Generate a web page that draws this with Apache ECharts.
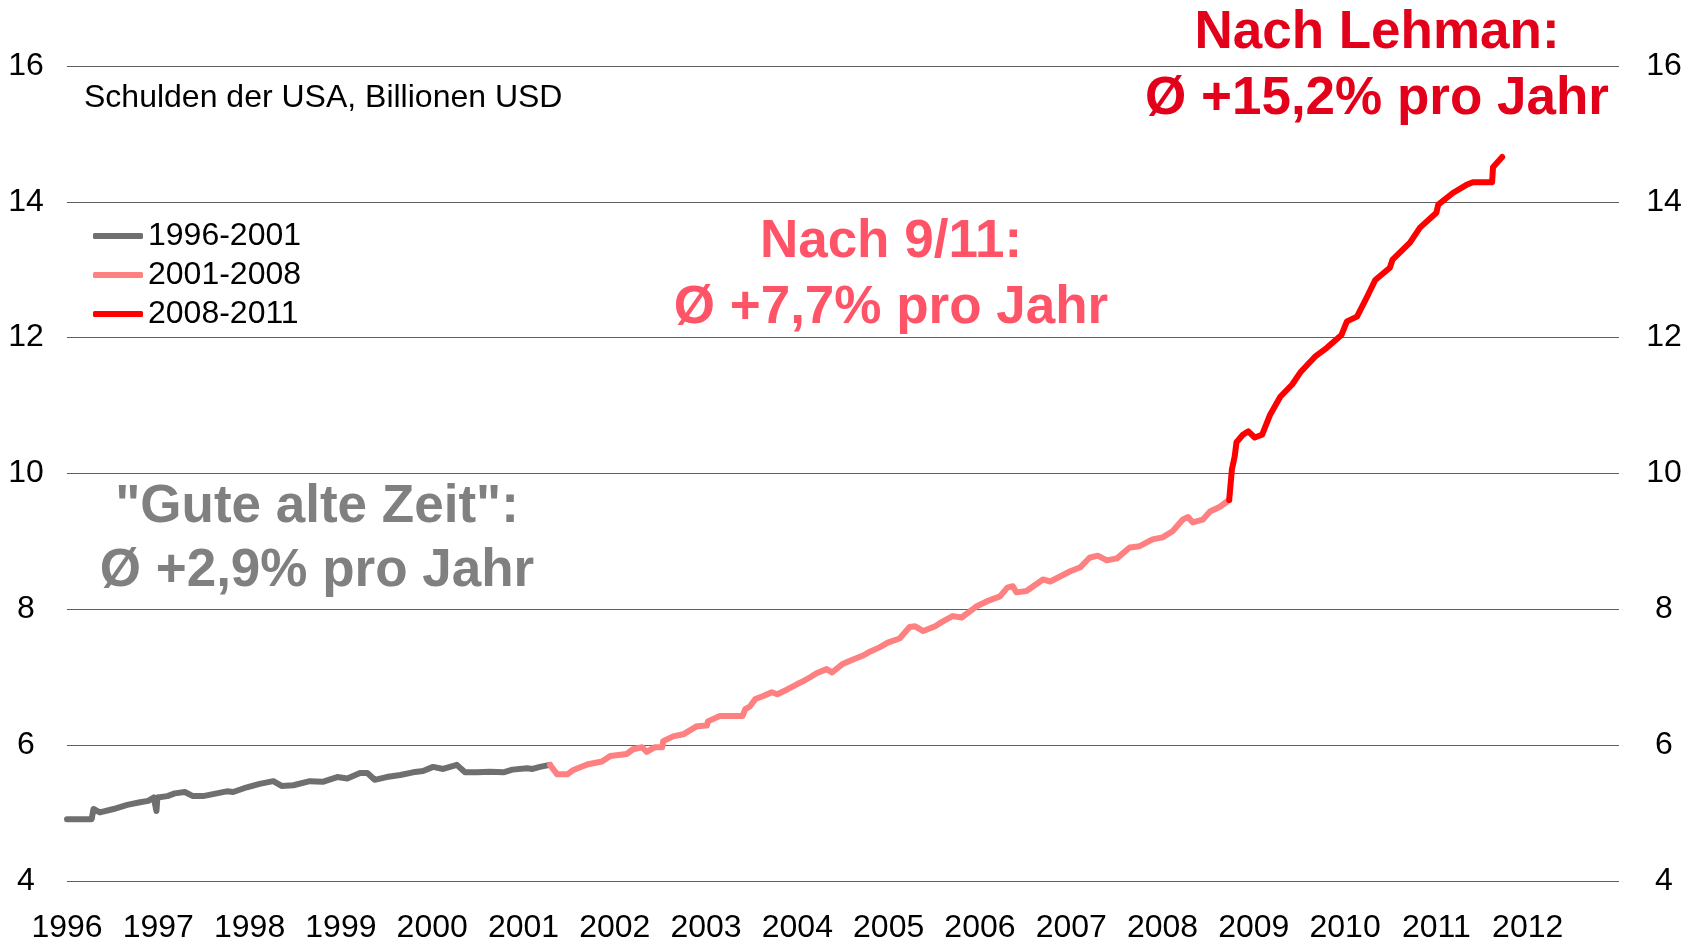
<!DOCTYPE html>
<html>
<head>
<meta charset="utf-8">
<script src="https://cdn.jsdelivr.net/npm/echarts@6/dist/echarts.min.js"></script>
<style>
html,body{margin:0;padding:0;background:#fff;}
#chart{width:1695px;height:944px;}
</style>
</head>
<body>
<div id="chart"></div>
<script>
// ---- Data (US debt, trillions USD) ----
const greyYears = [1996.00,1996.27,1996.29,1996.36,1996.51,1996.66,1996.80,1996.89,1996.95,1996.98,1996.99,1997.10,1997.18,1997.29,1997.38,1997.49,1997.64,1997.75,1997.82,1997.97,1998.11,1998.26,1998.35,1998.48,1998.66,1998.80,1998.96,1999.07,1999.21,1999.29,1999.37,1999.50,1999.65,1999.79,1999.90,2000.01,2000.12,2000.27,2000.36,2000.49,2000.63,2000.78,2000.88,2001.04,2001.10,2001.18,2001.29];
const greyValues = [4.91,4.91,5.06,5.01,5.06,5.12,5.16,5.18,5.23,5.03,5.23,5.25,5.29,5.31,5.25,5.25,5.29,5.32,5.31,5.38,5.43,5.47,5.40,5.41,5.47,5.46,5.53,5.51,5.59,5.59,5.49,5.53,5.56,5.60,5.62,5.68,5.65,5.71,5.60,5.60,5.61,5.60,5.64,5.66,5.65,5.68,5.71];

const pinkYears = [2001.29,2001.37,2001.48,2001.54,2001.65,2001.71,2001.86,2001.95,2002.13,2002.20,2002.30,2002.35,2002.44,2002.52,2002.53,2002.64,2002.75,2002.90,2003.01,2003.02,2003.15,2003.40,2003.43,2003.48,2003.54,2003.62,2003.72,2003.78,2003.89,2004.00,2004.06,2004.14,2004.21,2004.32,2004.38,2004.49,2004.61,2004.72,2004.80,2004.90,2004.99,2005.12,2005.23,2005.29,2005.38,2005.51,2005.59,2005.70,2005.80,2005.97,2006.08,2006.22,2006.30,2006.36,2006.40,2006.51,2006.69,2006.77,2006.99,2007.10,2007.20,2007.29,2007.39,2007.50,2007.64,2007.75,2007.89,2008.00,2008.11,2008.22,2008.28,2008.33,2008.44,2008.52,2008.63,2008.73];
const pinkValues = [5.71,5.57,5.57,5.63,5.69,5.72,5.76,5.84,5.87,5.94,5.97,5.90,5.97,5.97,6.06,6.13,6.16,6.28,6.29,6.35,6.43,6.43,6.53,6.57,6.68,6.72,6.78,6.75,6.82,6.90,6.94,7.00,7.06,7.12,7.07,7.19,7.26,7.32,7.38,7.44,7.51,7.57,7.74,7.75,7.68,7.75,7.82,7.90,7.88,8.05,8.12,8.19,8.32,8.34,8.25,8.27,8.44,8.41,8.56,8.62,8.76,8.79,8.72,8.75,8.91,8.93,9.03,9.06,9.15,9.32,9.36,9.28,9.32,9.44,9.51,9.61];

const redYears = [2008.73,2008.76,2008.79,2008.81,2008.88,2008.94,2009.01,2009.09,2009.18,2009.29,2009.42,2009.51,2009.67,2009.80,2009.96,2010.02,2010.13,2010.24,2010.33,2010.49,2010.52,2010.71,2010.82,2011.00,2011.02,2011.18,2011.33,2011.40,2011.61,2011.62,2011.72];
const redValues = [9.61,10.06,10.25,10.46,10.57,10.62,10.53,10.57,10.87,11.13,11.31,11.49,11.72,11.85,12.04,12.24,12.31,12.60,12.85,13.03,13.15,13.40,13.62,13.84,13.96,14.13,14.25,14.29,14.29,14.51,14.66];

const seriesNames = ['1996-2001','2001-2008','2008-2011'];
const yTicks = [4,6,8,10,12,14,16];
const xTickYears = [1996,1997,1998,1999,2000,2001,2002,2003,2004,2005,2006,2007,2008,2009,2010,2011,2012];

const chartTitle = 'Schulden der USA, Billionen USD';
const noteLehman = ['Nach Lehman:', 'Ø +15,2% pro Jahr'];
const note911 = ['Nach 9/11:', 'Ø +7,7% pro Jahr'];
const noteOld = ['"Gute alte Zeit":', 'Ø +2,9% pro Jahr'];

// ---- Build ----
const zip = (a, b) => a.map((x, i) => [x, b[i]]);
const FONT = '"Liberation Sans", Arial, Helvetica, sans-serif';
const chart = echarts.init(document.getElementById('chart'), null, {renderer: 'canvas'});

const lineSeries = (name, data, color) => ({
  name, type: 'line', data, showSymbol: false, symbol: 'none',
  xAxisIndex: 0, yAxisIndex: 0,
  lineStyle: {color, width: 6, cap: 'round', join: 'round'},
  itemStyle: {color},
  emphasis: {disabled: true},
  z: 3
});

const noteText = (lines, x, y1, y2, color) => ([
  {type: 'text', x, y: y1, style: {text: lines[0], x: 0, y: 0, fill: color, font: 'bold 53px ' + FONT, textAlign: 'center', textVerticalAlign: 'middle'}, z: 10},
  {type: 'text', x, y: y2, style: {text: lines[1], x: 0, y: 0, fill: color, font: 'bold 53px ' + FONT, textAlign: 'center', textVerticalAlign: 'middle'}, z: 10}
]);

const yMin = yTicks[0], yMax = yTicks[yTicks.length - 1];

const option = {
  animation: false,
  backgroundColor: '#ffffff',
  textStyle: {fontFamily: FONT},
  grid: {left: 67, right: 76, top: 66, bottom: 63, containLabel: false},
  legend: {
    orient: 'vertical', left: 88, top: 215,
    data: seriesNames,
    icon: 'roundRect', itemWidth: 50, itemHeight: 6, itemGap: 7,
    textStyle: {fontSize: 32, color: '#000', fontFamily: FONT, lineHeight: 32},
    selectedMode: false
  },
  xAxis: {
    type: 'value', min: xTickYears[0], max: xTickYears[xTickYears.length - 1] + 1, interval: 1,
    axisLine: {show: false}, axisTick: {show: false}, splitLine: {show: false},
    axisLabel: {
      fontSize: 32, color: '#000', fontFamily: FONT, margin: 31,
      formatter: v => xTickYears.includes(v) ? String(v) : ''
    }
  },
  yAxis: [
    {
      type: 'value', position: 'left', min: yMin, max: yMax, interval: 2,
      axisLine: {show: false}, axisTick: {show: false},
      splitLine: {show: true, lineStyle: {color: '#5f5f5f', width: 1}},
      axisLabel: {fontSize: 32, color: '#000', fontFamily: FONT, margin: 41, align: 'center'}
    },
    {
      type: 'value', position: 'right', min: yMin, max: yMax, interval: 2,
      axisLine: {show: false}, axisTick: {show: false}, splitLine: {show: false},
      axisLabel: {fontSize: 32, color: '#000', fontFamily: FONT, margin: 45, align: 'center'}
    }
  ],
  series: [
    lineSeries(seriesNames[0], zip(greyYears, greyValues), '#6f6f6f'),
    lineSeries(seriesNames[1], zip(pinkYears, pinkValues), '#ff8080'),
    lineSeries(seriesNames[2], zip(redYears, redValues), '#ff0000')
  ],
  graphic: [
    {type: 'text', x: 84, y: 98, style: {text: chartTitle, x: 0, y: 0, fill: '#000', font: '32px ' + FONT, textAlign: 'left', textVerticalAlign: 'middle'}, z: 10},
    ...noteText(noteLehman, 1377, 33, 99, '#e2001a'),
    ...noteText(note911, 891, 242, 308, '#ff5468'),
    ...noteText(noteOld, 317, 507, 571, '#808080')
  ]
};
chart.setOption(option);
</script>
</body>
</html>
